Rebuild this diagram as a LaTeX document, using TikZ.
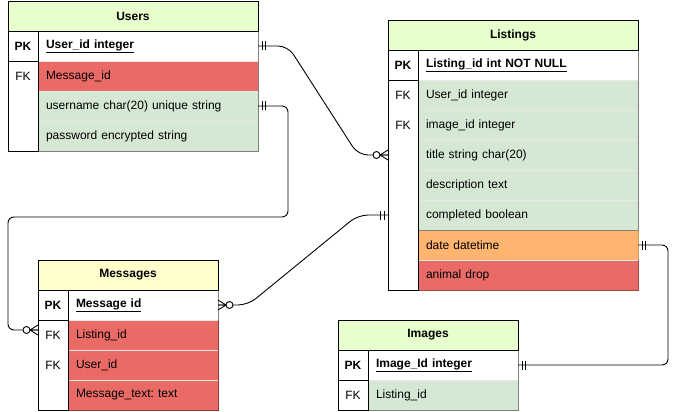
\documentclass[tikz,border=0pt]{standalone}
\usepackage{fontspec}
\setmainfont{Liberation Sans}
\usetikzlibrary{calc}
\frenchspacing
\definecolor{hdrg}{HTML}{E6FFCC}
\definecolor{hdry}{HTML}{FFFFCC}
\definecolor{rowg}{HTML}{D5E8D4}
\definecolor{rowr}{HTML}{EA6B66}
\definecolor{rowo}{HTML}{FFB570}
\definecolor{sepc}{HTML}{E8E8E8}
\newcommand{\ulgray}[1]{\tikz[baseline=(ut.base)]{\node[inner sep=0pt, outer sep=0pt] (ut) {#1}; \draw[gray, line width=0.8pt] ([yshift=-2pt]ut.base west) -- ([yshift=-2pt]ut.base east);}}
\tikzset{
  x=1pt, y=-1pt,
  cell/.style={anchor=north west, minimum height=30pt, inner sep=0pt, outer sep=0pt, font=\fontsize{12}{14}\selectfont},
  hdr/.style={cell, draw=black, line width=0.8pt, font=\bfseries\fontsize{12}{14}\selectfont},
  keycol/.style={cell, draw=black, line width=0.8pt, fill=white, minimum width=30pt},
  keytxt/.style={cell, minimum width=30pt},
  val/.style={cell, draw=sepc, line width=0.6pt, text width=#1, inner xsep=8pt, align=left},
  outl/.style={draw=#1, line width=0.8pt},
  conn/.style={draw=black, line width=0.9pt},
  one/.pic={\draw[conn] (4,-4.5) -- (4,4.5) (7.5,-4.5) -- (7.5,4.5);},
  manyopt/.pic={\draw[conn] (0,-5) -- (8,0) -- (0,5) (0,0) -- (8,0); \draw[conn, fill=white] (11.5,0) circle (3.5);}
}
\begin{document}
\begin{tikzpicture}
\useasboundingbox (0,0) rectangle (678,412);
% ---------------- Users ----------------
\node[val=204pt, fill=white] (uPK) at (38,31) {\bfseries\underline{User\_id integer}};
\node[val=204pt, fill=rowr] (uMsg) at (38,61) {Message\_id};
\node[val=204pt, fill=rowg] (uName) at (38,91) {username char(20) unique string};
\node[val=204pt, fill=rowg] (uPwd) at (38,121) {password encrypted string};
\draw[outl=gray] (uPK.north west) rectangle (uPwd.south east);
\node[hdr, fill=hdrg, minimum width=250pt] (uH) at (8,1) {Users};
\node[keycol] (uPKk) at (8,31) {\bfseries PK};
\node[keycol, minimum height=90pt] (uFKk) at (8,61) {};
\node[keytxt] (uFK1) at (8,61) {FK};
% ---------------- Listings ----------------
\node[val=204pt, fill=white] (lPK) at (418,50) {\bfseries\underline{Listing\_id int NOT NULL}};
\node[val=204pt, fill=rowg] (lUser) at (418,80) {User\_id integer};
\node[val=204pt, fill=rowg] (lImg) at (418,110) {image\_id integer};
\node[val=204pt, fill=rowg] (lTitle) at (418,140) {title string char(20)};
\node[val=204pt, fill=rowg] (lDesc) at (418,170) {description text};
\node[val=204pt, fill=rowg] (lComp) at (418,200) {completed boolean};
\node[val=204pt, fill=rowo] (lDate) at (418,230) {date datetime};
\node[val=204pt, fill=rowr] (lAnim) at (418,260) {animal drop};
\draw[outl=gray] (lPK.north west) rectangle (lComp.south east);
\draw[outl=rowr!70!black] (lAnim.north east) |- (lAnim.south west);
\draw[outl=rowo!85!black] (lDate.north east) -- (lDate.south east);
\node[hdr, fill=hdrg, minimum width=250pt] (lH) at (388,20) {Listings};
\node[keycol] (lPKk) at (388,50) {\bfseries PK};
\node[keycol, minimum height=210pt] (lFKk) at (388,80) {};
\node[keytxt] (lFK1) at (388,80) {FK};
\node[keytxt] (lFK2) at (388,110) {FK};
% ---------------- Messages ----------------
\node[val=134pt, fill=white] (mPK) at (68,290) {\bfseries\underline{Message id}};
\node[val=134pt, fill=rowr] (mList) at (68,320) {Listing\_id};
\node[val=134pt, fill=rowr] (mUser) at (68,350) {User\_id};
\node[val=134pt, fill=rowr] (mText) at (68,380) {Message\_text: text};
\draw[outl=gray] (mPK.south east) |- (mPK.north west);
\draw[outl=rowr!60!black] (mList.north east) |- (mText.south west);
\node[hdr, fill=hdry, minimum width=180pt] (mH) at (38,260) {Messages};
\node[keycol] (mPKk) at (38,290) {\bfseries PK};
\node[keycol, minimum height=90pt] (mFKk) at (38,320) {};
\node[keytxt] (mFK1) at (38,320) {FK};
\node[keytxt] (mFK2) at (38,350) {FK};
% ---------------- Images ----------------
\node[val=134pt, fill=white] (iPK) at (368,350) {\bfseries\underline{Image\_Id integer}};
\node[val=134pt, fill=rowg] (iList) at (368,380) {Listing\_id};
\draw[outl=gray] (iPK.north west) rectangle (iList.south east);
\node[hdr, fill=hdrg, minimum width=180pt] (iH) at (338,320) {Images};
\node[keycol] (iPKk) at (338,350) {\bfseries PK};
\node[keycol] (iFKk) at (338,380) {FK};
% ---------------- connectors ----------------
\coordinate (lInTitle) at (lTitle.west -| lFKk.west);
\coordinate (lInComp) at (lComp.west -| lFKk.west);
\coordinate (mIn) at ($(mFKk.north west)+(0,10)$);
\coordinate (r2a) at (288,217);
\coordinate (r2b) at (8,217);
\coordinate (r4) at (668,0);
\draw[conn, rounded corners=10pt] (uPK.east) -- ++(30,0) -- ($(lInTitle)+(-30,0)$) -- (lInTitle);
\draw[conn, rounded corners=6pt] (uName.east) -- (uName.east -| r2a) -- (r2a) -- (r2b) -- (r2b |- mIn) -- (mIn);
\draw[conn, rounded corners=10pt] (mPK.east) -- ++(30,0) -- ($(lInComp)+(-30,0)$) -- (lInComp);
\draw[conn, rounded corners=6pt] (lDate.east) -- (lDate.east -| r4) -- (r4 |- iPK.east) -- (iPK.east);
\pic at (uPK.east) {one};
\pic[rotate=180] at (lInTitle) {manyopt};
\pic at (uName.east) {one};
\pic[rotate=180] at (mIn) {manyopt};
\pic at (mPK.east) {manyopt};
\pic[rotate=180] at (lInComp) {one};
\pic at (lDate.east) {one};
\pic at (iPK.east) {one};
\end{tikzpicture}
\end{document}
